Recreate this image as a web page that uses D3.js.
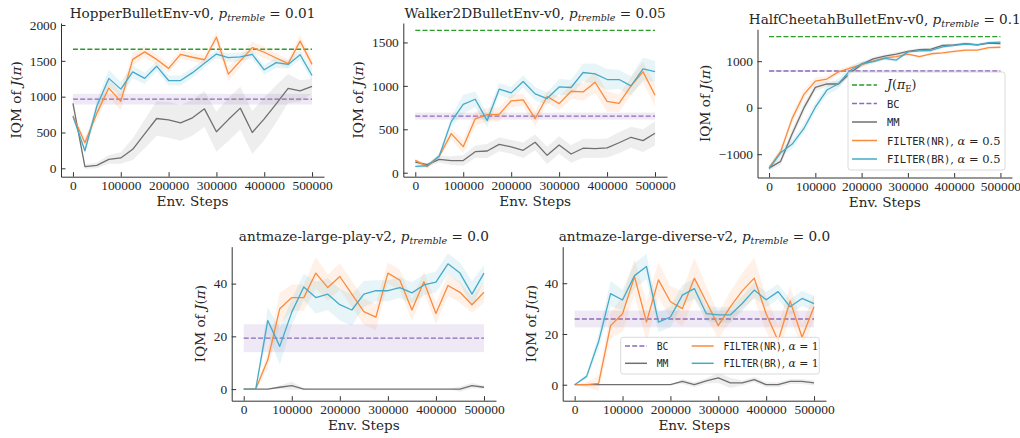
<html>
<script src='https://d3js.org/d3.v7.min.js'></script>
<style>
body {margin: 0; background: white;}
text {font-family: 'DejaVu Serif', serif; fill: #262626;}
.axis text {font-family: 'Liberation Serif', serif; font-size: 13.4px; fill: #262626;}
.axis path, .axis line {stroke: #333; stroke-width: 1;}
</style>
<body>
<svg width=1020 height=438></svg>
<script>
// x values shared by every run
const steps = [0, 25000, 50000, 75000, 100000, 125000, 150000, 175000, 200000, 225000, 250000,
               275000, 300000, 325000, 350000, 375000, 400000, 425000, 450000, 475000, 500000];
const xTicks = [0, 100000, 200000, 300000, 400000, 500000];

// HopperBulletEnv-v0
const hopperNR = [730, 358, 770, 1120, 935, 1520, 1625, 1520, 1395, 1590, 1550, 1515, 1830, 1315, 1500, 1685, 1620, 1540, 1460, 1775, 1450];
const hopperNRSpread = [40, 60, 80, 120, 130, 90, 80, 70, 60, 60, 60, 60, 80, 100, 80, 80, 80, 70, 60, 90, 90];
const hopperBR = [725, 245, 870, 1255, 1105, 1345, 1255, 1425, 1225, 1225, 1335, 1465, 1595, 1545, 1555, 1590, 1375, 1475, 1450, 1585, 1295];
const hopperBRSpread = [30, 50, 80, 120, 100, 90, 80, 70, 70, 70, 70, 60, 60, 60, 60, 60, 70, 70, 60, 70, 80];
const hopperMM = [905, 25, 40, 125, 145, 265, 480, 695, 675, 635, 705, 830, 510, 680, 840, 500, 690, 900, 1115, 1080, 1145];
const hopperMMSpread = [30, 30, 40, 60, 80, 150, 200, 240, 250, 250, 250, 250, 280, 300, 300, 300, 300, 260, 200, 150, 100];
const hopperBC = 965, hopperBCSpread = 75, hopperExpert = 1662;
const hopperTicks = [0, 500, 1000, 1500, 2000];

// Walker2DBulletEnv-v0
const walkerNR = [142, 70, 190, 450, 300, 620, 668, 672, 828, 838, 622, 878, 795, 938, 930, 1042, 822, 798, 1000, 1162, 892];
const walkerNRSpread = [20, 20, 30, 60, 80, 80, 80, 80, 70, 70, 90, 70, 80, 90, 100, 120, 120, 100, 100, 120, 130];
const walkerBR = [72, 80, 192, 588, 788, 846, 600, 962, 919, 1050, 908, 854, 988, 981, 1154, 1138, 1073, 1073, 1000, 1196, 1165];
const walkerBRSpread = [20, 20, 30, 60, 110, 90, 80, 70, 70, 70, 80, 70, 90, 90, 100, 120, 120, 110, 110, 130, 120];
const walkerMM = [123, 92, 154, 140, 140, 242, 250, 327, 298, 258, 350, 200, 319, 215, 282, 278, 285, 345, 408, 369, 454];
const walkerMMSpread = [20, 20, 40, 50, 60, 70, 80, 80, 80, 90, 90, 100, 100, 100, 110, 110, 110, 120, 120, 130, 140];
const walkerBC = 652, walkerBCSpread = 40, walkerExpert = 1638;
const walkerTicks = [0, 500, 1000, 1500];

// HalfCheetahBulletEnv-v0
const cheetahNR = [-1290, -946, -229, 280, 573, 616, 770, 850, 925, 1000, 1070, 1100, 1150, 1097, 1160, 1180, 1210, 1240, 1240, 1290, 1300];
const cheetahNRSpread = [50, 80, 100, 100, 80, 60, 50, 50, 50, 40, 40, 40, 30, 30, 30, 30, 30, 30, 30, 30, 30];
const cheetahBR = [-1310, -970, -781, -452, 10, 380, 515, 800, 945, 990, 1060, 1025, 1200, 1220, 1230, 1310, 1340, 1370, 1350, 1400, 1410];
const cheetahBRSpread = [50, 80, 100, 100, 100, 110, 110, 90, 60, 40, 40, 40, 30, 30, 30, 30, 30, 30, 30, 30, 30];
const cheetahMM = [-1300, -1154, -560, -10, 437, 510, 510, 740, 930, 1050, 1110, 1150, 1210, 1250, 1260, 1340, 1350, 1380, 1350, 1390, 1380];
const cheetahMMSpread = [50, 80, 100, 100, 80, 60, 60, 50, 50, 40, 40, 40, 30, 30, 30, 30, 30, 30, 30, 30, 30];
const cheetahBC = 789, cheetahBCSpread = 20, cheetahExpert = 1527;
const cheetahTicks = [-1000, 0, 1000];

// antmaze-large-play-v2
const playNR = [0, 0, 11, 30.5, 34.7, 34.7, 44, 38.5, 42.7, 36, 29.4, 27.3, 44, 41.3, 30, 40.7, 28.7, 39.3, 36.7, 32, 36.7];
const playNRSpread = [0, 0, 3, 6, 5, 5, 6, 5, 5, 5, 5, 5, 4, 4, 4, 4, 4, 4, 4, 3, 4];
const playBR = [0, 0, 26, 16.2, 29.2, 38.7, 34.7, 36, 32, 30, 36, 37.3, 37.3, 38.5, 36.5, 39.5, 40.6, 47.5, 44, 36, 44];
const playBRSpread = [0, 0, 5, 7, 5, 5, 6, 6, 6, 6, 5, 4, 4, 4, 4, 4, 4, 4, 4, 5, 3];
const playMM = [0, 0, 0, 0.7, 1.3, 0, 0, 0, 0, 0, 0, 0, 0, 0, 0, 0, 0, 0, 0, 1.3, 0.7];
const playMMSpread = [0, 0, 0, 0.7, 1.5, 0.3, 0, 0, 0, 0, 0, 0, 0, 0, 0, 0, 0, 0, 1, 1, 0.7];
const playBC = 19.3, playBCSpread = 5.3;
const playTicks = [0, 20, 40];

// antmaze-large-diverse-v2
const diverseNR = [0, 0, 0.5, 23.3, 28, 42.6, 24.7, 41.3, 32.7, 30, 42, 32.7, 23.3, 30.7, 37, 42, 28, 17.3, 33, 18.7, 30.7];
const diverseNRSpread = [0, 1, 3, 5, 7, 7, 8, 7, 6, 7, 8, 6, 5, 6, 7, 8, 7, 6, 6, 5, 5];
const diverseBR = [0, 3.3, 17, 35.9, 33.4, 43, 46.6, 24.7, 26.7, 35.3, 37.9, 28, 27.5, 27.5, 32, 37.3, 33.5, 36.7, 30.7, 34, 32];
const diverseBRSpread = [0, 1, 3, 5, 4, 5, 5, 4, 4, 4, 4, 3, 3, 3, 3, 3, 3, 3, 3, 3, 3];
const diverseMM = [0, 0, 0, 0, 0, 0, 0, 0, 0, 1.3, 0, 1.5, 2.7, 0.7, 0.7, 2, 0, 0, 1.3, 1.3, 0.7];
const diverseMMSpread = [0, 0, 0, 0, 0, 0, 0, 0, 0, 1, 1, 1, 2, 2, 1, 1, 1, 1, 1, 1, 1];
const diverseBC = 25.9, diverseBCSpread = 3.3;
const diverseTicks = [0, 20, 40];

const colors = {NR: "#fb8a3c", BR: "#45aac9", MM: "#707070", BC: "#8d6bb8", expert: "#2a9c2a"};
const mono = "'DejaVu Sans Mono', monospace";

const svg = d3.select("svg");

const panels = [
  {env: "HopperBulletEnv-v0", tremble: "0.01", box: [61, 23, 324, 176.7], yDomain: [-117, 2028], yTicks: hopperTicks,
   nr: hopperNR, nrS: hopperNRSpread, br: hopperBR, brS: hopperBRSpread, mm: hopperMM, mmS: hopperMMSpread,
   bc: hopperBC, bcS: hopperBCSpread, expert: hopperExpert},
  {env: "Walker2DBulletEnv-v0", tremble: "0.05", box: [403.3, 23, 667, 176.7], yDomain: [-46, 1724], yTicks: walkerTicks,
   nr: walkerNR, nrS: walkerNRSpread, br: walkerBR, brS: walkerBRSpread, mm: walkerMM, mmS: walkerMMSpread,
   bc: walkerBC, bcS: walkerBCSpread, expert: walkerExpert},
  {env: "HalfCheetahBulletEnv-v0", tremble: "0.1", box: [757.5, 29.3, 1012, 177.5], yDomain: [-1501, 1686], yTicks: cheetahTicks,
   nr: cheetahNR, nrS: cheetahNRSpread, br: cheetahBR, brS: cheetahBRSpread, mm: cheetahMM, mmS: cheetahMMSpread,
   bc: cheetahBC, bcS: cheetahBCSpread, expert: cheetahExpert, legend: "big"},
  {env: "antmaze-large-play-v2", tremble: "0.0", box: [231.7, 246.7, 496, 400.7], yDomain: [-4.4, 54], yTicks: playTicks,
   nr: playNR, nrS: playNRSpread, br: playBR, brS: playBRSpread, mm: playMM, mmS: playMMSpread,
   bc: playBC, bcS: playBCSpread},
  {env: "antmaze-large-diverse-v2", tremble: "0.0", box: [562.7, 246.7, 826, 400.7], yDomain: [-6.3, 54.4], yTicks: diverseTicks,
   nr: diverseNR, nrS: diverseNRSpread, br: diverseBR, brS: diverseBRSpread, mm: diverseMM, mmS: diverseMMSpread,
   bc: diverseBC, bcS: diverseBCSpread, legend: "small"}
];

function addParts(t, parts, size, monoSize) {
  parts.forEach(p => {
    const s = t.append("tspan").text(p.t);
    if (p.mono) s.attr("font-family", mono).attr("font-size", monoSize);
    if (p.it) s.attr("font-style", "italic");
    if (p.sub) s.attr("font-size", size * 0.7).attr("dy", size * 0.22);
    if (p.unsub) s.attr("dy", -size * 0.22);
  });
}

function drawPanel(p) {
  const [x0, y0, x1, y1] = p.box;
  const x = d3.scaleLinear().domain([-25000, 525000]).range([x0, x1]);
  const y = d3.scaleLinear().domain(p.yDomain).range([y1, y0]);
  const g = svg.append("g");

  const band = (vals, spread) => d3.area()
      .x((d, i) => x(steps[i]))
      .y0((d, i) => y(vals[i] - spread[i]))
      .y1((d, i) => y(vals[i] + spread[i]))(vals);
  const line = vals => d3.line().x((d, i) => x(steps[i])).y(d => y(d))(vals);

  // expert and BC reference lines
  if (p.expert !== undefined) {
    g.append("line").attr("x1", x(0)).attr("x2", x(500000)).attr("y1", y(p.expert)).attr("y2", y(p.expert))
      .attr("stroke", colors.expert).attr("stroke-width", 1.3).attr("stroke-dasharray", "5,2.2");
  }
  g.append("rect").attr("x", x(0)).attr("width", x(500000) - x(0))
    .attr("y", y(p.bc + p.bcS)).attr("height", y(p.bc - p.bcS) - y(p.bc + p.bcS))
    .attr("fill", colors.BC).attr("fill-opacity", 0.15);
  g.append("line").attr("x1", x(0)).attr("x2", x(500000)).attr("y1", y(p.bc)).attr("y2", y(p.bc))
    .attr("stroke", colors.BC).attr("stroke-width", 1.3).attr("stroke-dasharray", "5,2.2");

  [["MM", p.mm, p.mmS], ["NR", p.nr, p.nrS], ["BR", p.br, p.brS]].forEach(([k, v, s]) => {
    g.append("path").attr("d", band(v, s)).attr("fill", colors[k]).attr("fill-opacity", 0.12);
  });
  [["MM", p.mm], ["NR", p.nr], ["BR", p.br]].forEach(([k, v]) => {
    g.append("path").attr("d", line(v)).attr("fill", "none").attr("stroke", colors[k])
      .attr("stroke-width", 1.3).attr("stroke-linejoin", "round");
  });

  // axes
  g.append("g").attr("class", "axis").attr("transform", `translate(0,${y1})`)
    .call(d3.axisBottom(x).tickValues(xTicks).tickFormat(d3.format("d")).tickSizeInner(-4.5).tickSizeOuter(0).tickPadding(4));
  const ya = g.append("g").attr("class", "axis").attr("transform", `translate(${x0},0)`)
    .call(d3.axisLeft(y).tickValues(p.yTicks).tickFormat(d3.format("d")).tickSizeInner(-4.5).tickSizeOuter(0).tickPadding(4.5));

  // labels
  const fs = 13.6;
  const cx = (x0 + x1) / 2;
  const title = g.append("text").attr("x", cx).attr("y", y0 - 5.3).attr("text-anchor", "middle").attr("font-size", fs);
  addParts(title, [{t: p.env + ", "}, {t: "p", it: true}, {t: "tremble", it: true, sub: true}, {t: " = " + p.tremble, unsub: true}], fs);

  g.append("text").attr("x", cx).attr("y", y1 + 29.5).attr("text-anchor", "middle").attr("font-size", fs).text("Env. Steps");

  const bb = ya.node().getBBox();
  const yl = g.append("text").attr("text-anchor", "middle").attr("font-size", fs)
    .attr("transform", `translate(${x0 + bb.x - 9},${(y0 + y1) / 2}) rotate(-90)`);
  addParts(yl, [{t: "IQM of "}, {t: "J", it: true}, {t: "("}, {t: "π", it: true}, {t: ")"}], fs);

  if (p.legend === "big") drawBigLegend(g);
  if (p.legend === "small") drawSmallLegend(g);
}

function handle(g, xa, xb, yy, color, dashed) {
  g.append("line").attr("x1", xa).attr("x2", xb).attr("y1", yy).attr("y2", yy)
    .attr("stroke", color).attr("stroke-width", 1.5).attr("stroke-dasharray", dashed ? "5,2.2" : null);
}

function drawBigLegend(g) {
  g.append("rect").attr("x", 848).attr("y", 72).attr("width", 157).attr("height", 98).attr("rx", 2.5)
    .attr("fill", "white").attr("fill-opacity", 0.8).attr("stroke", "#d0d0d0").attr("stroke-width", 0.8);
  const fs = 11.5;
  const rows = [
    {c: colors.expert, d: true, parts: [{t: "J", it: true}, {t: "("}, {t: "π", it: true}, {t: "E", sub: true}, {t: ")", unsub: true}]},
    {c: colors.BC, d: true, parts: [{t: "BC", mono: true}]},
    {c: colors.MM, d: false, parts: [{t: "MM", mono: true}]},
    {c: colors.NR, d: false, parts: [{t: "FILTER(NR)", mono: true}, {t: ", "}, {t: "α", it: true}, {t: " = 0.5"}]},
    {c: colors.BR, d: false, parts: [{t: "FILTER(BR)", mono: true}, {t: ", "}, {t: "α", it: true}, {t: " = 0.5"}]}
  ];
  rows.forEach((r, i) => {
    const yy = 85 + i * 18.5;
    handle(g, 852, 877, yy, r.c, r.d);
    const t = g.append("text").attr("x", 887).attr("y", yy + 4).attr("font-size", i === 0 ? 12.5 : fs);
    addParts(t, r.parts, i === 0 ? 12.5 : fs, 10.5);
  });
}

function drawSmallLegend(g) {
  g.append("rect").attr("x", 620.7).attr("y", 337.3).attr("width", 198.6).attr("height", 36.7).attr("rx", 2.5)
    .attr("fill", "white").attr("fill-opacity", 0.8).attr("stroke", "#d0d0d0").attr("stroke-width", 0.8);
  const fs = 10.8;
  const items = [
    {x: 625, y: 346, c: colors.BC, d: true, parts: [{t: "BC", mono: true}]},
    {x: 625, y: 363.3, c: colors.MM, d: false, parts: [{t: "MM", mono: true}]},
    {x: 691.7, y: 346, c: colors.NR, d: false, parts: [{t: "FILTER(NR)", mono: true}, {t: ", "}, {t: "α", it: true}, {t: " = 1"}]},
    {x: 691.7, y: 363.3, c: colors.BR, d: false, parts: [{t: "FILTER(BR)", mono: true}, {t: ", "}, {t: "α", it: true}, {t: " = 1"}]}
  ];
  items.forEach(r => {
    handle(g, r.x, r.x + 22, r.y, r.c, r.d);
    const t = g.append("text").attr("x", r.x + 31.7).attr("y", r.y + 3.7).attr("font-size", fs);
    addParts(t, r.parts, fs, 9.7);
  });
}

panels.forEach(drawPanel);
</script>
</body>
</html>
